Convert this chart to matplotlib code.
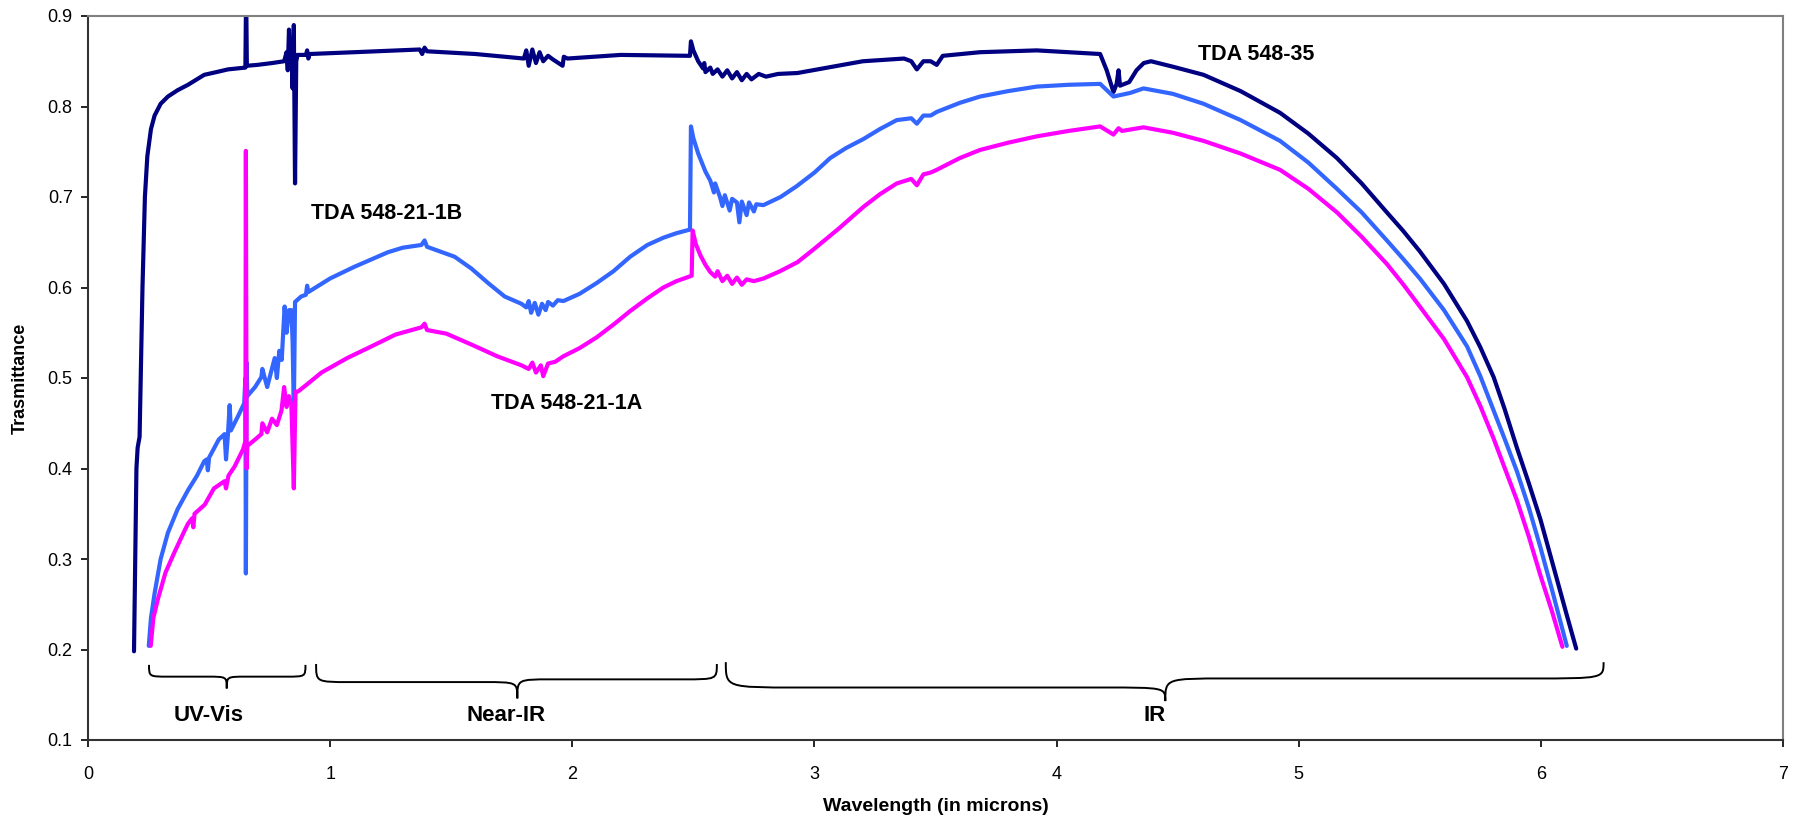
import numpy as np
import matplotlib
matplotlib.use("Agg")
import matplotlib.pyplot as plt
from matplotlib.path import Path
from matplotlib.patches import PathPatch

plt.rcParams['font.family'] = ['Liberation Sans', 'DejaVu Sans']

# (wavelength in microns, transmittance)
# TDA 548-35 (navy)
pts_35 = [(0.19, 0.198), (0.200, 0.40), (0.205, 0.423), (0.213, 0.435), (0.225, 0.60),
          (0.235, 0.70), (0.245, 0.745), (0.26, 0.775), (0.275, 0.790), (0.30, 0.803),
          (0.33, 0.811), (0.37, 0.818), (0.413, 0.824), (0.48, 0.835), (0.53, 0.838),
          (0.578, 0.841), (0.650, 0.843), (0.653, 0.93), (0.656, 0.845), (0.70, 0.846),
          (0.76, 0.848), (0.81, 0.850), (0.82, 0.86), (0.825, 0.84), (0.83, 0.885),
          (0.835, 0.845), (0.84, 0.87), (0.845, 0.82), (0.85, 0.89), (0.855, 0.715),
          (0.86, 0.85), (0.865, 0.857), (0.90, 0.857), (0.905, 0.862), (0.91, 0.853),
          (0.915, 0.858), (1.1, 0.860), (1.37, 0.863), (1.38, 0.858), (1.39, 0.865),
          (1.40, 0.861), (1.6, 0.858), (1.80, 0.853), (1.81, 0.862), (1.82, 0.845),
          (1.835, 0.863), (1.85, 0.848), (1.865, 0.860), (1.88, 0.850), (1.9, 0.856),
          (1.92, 0.852), (1.96, 0.845), (1.965, 0.855), (1.98, 0.853), (2.2, 0.857),
          (2.486, 0.856), (2.49, 0.872), (2.50, 0.862), (2.52, 0.850), (2.54, 0.842),
          (2.545, 0.848), (2.55, 0.838), (2.57, 0.843), (2.58, 0.836), (2.60, 0.841),
          (2.62, 0.833), (2.64, 0.840), (2.66, 0.831), (2.68, 0.838), (2.70, 0.829),
          (2.72, 0.836), (2.74, 0.830), (2.77, 0.836), (2.8, 0.833), (2.85, 0.836),
          (2.93, 0.837), (3.2, 0.850), (3.37, 0.853), (3.40, 0.850), (3.423, 0.841),
          (3.45, 0.850), (3.48, 0.850), (3.505, 0.846), (3.53, 0.856), (3.684, 0.860),
          (3.918, 0.862), (4.18, 0.858), (4.207, 0.840), (4.235, 0.816), (4.248, 0.825),
          (4.256, 0.840), (4.262, 0.823), (4.30, 0.827), (4.33, 0.840), (4.36, 0.848),
          (4.39, 0.850), (4.48, 0.844), (4.607, 0.835), (4.76, 0.817), (4.923, 0.793),
          (5.04, 0.770), (5.158, 0.743), (5.26, 0.715), (5.364, 0.683), (5.43, 0.663),
          (5.50, 0.640), (5.60, 0.604), (5.695, 0.563), (5.75, 0.534), (5.805, 0.501),
          (5.85, 0.466), (5.901, 0.423), (5.95, 0.384), (5.998, 0.344), (6.03, 0.313),
          (6.067, 0.277), (6.105, 0.240), (6.146, 0.201)]

# TDA 548-21-1B (blue)
pts_1b = [(0.251, 0.204), (0.26, 0.235), (0.275, 0.262), (0.30, 0.300), (0.33, 0.329),
          (0.37, 0.355), (0.413, 0.376), (0.45, 0.392), (0.48, 0.408), (0.49, 0.41),
          (0.495, 0.398), (0.50, 0.412), (0.54, 0.432), (0.564, 0.438), (0.570, 0.41),
          (0.578, 0.438), (0.585, 0.47), (0.59, 0.442), (0.62, 0.458), (0.645, 0.472),
          (0.650, 0.50), (0.652, 0.284), (0.655, 0.517), (0.658, 0.48), (0.69, 0.49),
          (0.716, 0.501), (0.72, 0.51), (0.74, 0.49), (0.771, 0.522), (0.78, 0.50),
          (0.79, 0.53), (0.80, 0.52), (0.812, 0.579), (0.82, 0.55), (0.83, 0.575),
          (0.84, 0.575), (0.845, 0.54), (0.85, 0.464), (0.855, 0.584), (0.88, 0.590),
          (0.90, 0.592), (0.905, 0.602), (0.91, 0.595), (1.0, 0.610), (1.101, 0.623),
          (1.239, 0.639), (1.30, 0.644), (1.377, 0.647), (1.39, 0.652), (1.40, 0.645),
          (1.514, 0.634), (1.583, 0.621), (1.652, 0.605), (1.721, 0.590), (1.790, 0.582),
          (1.81, 0.578), (1.82, 0.585), (1.83, 0.572), (1.845, 0.583), (1.86, 0.570),
          (1.875, 0.582), (1.89, 0.575), (1.90, 0.584), (1.92, 0.580), (1.94, 0.586),
          (1.963, 0.585), (2.03, 0.593), (2.101, 0.605), (2.17, 0.618), (2.239, 0.634),
          (2.31, 0.647), (2.376, 0.655), (2.43, 0.660), (2.486, 0.664), (2.490, 0.778),
          (2.50, 0.765), (2.52, 0.748), (2.55, 0.728), (2.57, 0.718), (2.585, 0.705),
          (2.59, 0.715), (2.61, 0.700), (2.62, 0.690), (2.63, 0.702), (2.65, 0.685),
          (2.66, 0.698), (2.68, 0.694), (2.69, 0.672), (2.70, 0.695), (2.72, 0.680),
          (2.73, 0.694), (2.75, 0.684), (2.76, 0.692), (2.789, 0.691), (2.86, 0.700),
          (2.927, 0.712), (3.0, 0.727), (3.065, 0.743), (3.13, 0.754), (3.202, 0.764),
          (3.27, 0.775), (3.34, 0.785), (3.40, 0.787), (3.423, 0.781), (3.45, 0.790),
          (3.48, 0.790), (3.505, 0.794), (3.60, 0.804), (3.684, 0.811), (3.80, 0.817),
          (3.918, 0.822), (4.05, 0.824), (4.18, 0.825), (4.235, 0.811), (4.304, 0.815),
          (4.359, 0.820), (4.48, 0.814), (4.607, 0.803), (4.76, 0.785), (4.923, 0.762),
          (5.04, 0.738), (5.158, 0.709), (5.26, 0.683), (5.364, 0.652), (5.43, 0.632),
          (5.50, 0.610), (5.60, 0.575), (5.695, 0.535), (5.75, 0.502), (5.805, 0.464),
          (5.85, 0.433), (5.901, 0.397), (5.95, 0.357), (5.998, 0.313), (6.05, 0.262),
          (6.107, 0.204)]

# TDA 548-21-1A (magenta)
pts_1a = [(0.259, 0.204), (0.27, 0.235), (0.289, 0.256), (0.32, 0.285), (0.358, 0.308),
          (0.40, 0.332), (0.413, 0.339), (0.43, 0.345), (0.435, 0.335), (0.44, 0.350),
          (0.482, 0.360), (0.52, 0.378), (0.564, 0.386), (0.57, 0.378), (0.58, 0.392),
          (0.605, 0.402), (0.64, 0.421), (0.650, 0.43), (0.652, 0.751), (0.655, 0.40),
          (0.658, 0.425), (0.69, 0.432), (0.716, 0.438), (0.72, 0.45), (0.74, 0.44),
          (0.76, 0.455), (0.78, 0.448), (0.799, 0.464), (0.81, 0.49), (0.82, 0.468),
          (0.83, 0.48), (0.84, 0.47), (0.85, 0.378), (0.857, 0.485), (0.867, 0.485),
          (0.90, 0.492), (0.964, 0.506), (1.07, 0.522), (1.171, 0.535), (1.27, 0.548),
          (1.377, 0.556), (1.39, 0.560), (1.40, 0.553), (1.48, 0.549), (1.583, 0.537),
          (1.69, 0.524), (1.79, 0.514), (1.82, 0.510), (1.835, 0.517), (1.85, 0.506),
          (1.87, 0.514), (1.88, 0.502), (1.90, 0.516), (1.93, 0.518), (1.963, 0.524),
          (2.03, 0.533), (2.101, 0.545), (2.17, 0.559), (2.239, 0.574), (2.31, 0.588),
          (2.376, 0.600), (2.43, 0.607), (2.493, 0.613), (2.497, 0.663), (2.51, 0.648),
          (2.53, 0.635), (2.55, 0.625), (2.57, 0.617), (2.59, 0.612), (2.60, 0.618),
          (2.62, 0.607), (2.64, 0.613), (2.66, 0.604), (2.68, 0.611), (2.70, 0.603),
          (2.72, 0.609), (2.75, 0.607), (2.79, 0.610), (2.858, 0.618), (2.93, 0.628),
          (2.996, 0.642), (3.10, 0.665), (3.202, 0.689), (3.27, 0.703), (3.34, 0.715),
          (3.40, 0.720), (3.423, 0.713), (3.45, 0.725), (3.48, 0.727), (3.505, 0.730),
          (3.60, 0.743), (3.684, 0.752), (3.80, 0.760), (3.918, 0.767), (4.05, 0.773),
          (4.18, 0.778), (4.235, 0.769), (4.256, 0.776), (4.27, 0.773), (4.359, 0.777),
          (4.48, 0.771), (4.607, 0.762), (4.76, 0.748), (4.923, 0.730), (5.04, 0.709),
          (5.158, 0.683), (5.26, 0.656), (5.364, 0.626), (5.43, 0.604), (5.50, 0.579),
          (5.60, 0.543), (5.695, 0.501), (5.75, 0.469), (5.805, 0.433), (5.85, 0.401),
          (5.901, 0.365), (5.95, 0.325), (5.998, 0.282), (6.045, 0.243), (6.089, 0.203)]

series_names = ['TDA 548-35', 'TDA 548-21-1B', 'TDA 548-21-1A']
series_colors = ['#000080', '#3366FF', '#FF00FF']

# spectral regions: name, start, end, tip of the brace
region_names = ['UV-Vis', 'Near-IR', 'IR']
region_start = [0.252, 0.942, 2.634]
region_end = [0.898, 2.597, 6.259]
region_tip = [0.573, 1.773, 4.449]

fig = plt.figure(figsize=(18.02, 8.19), dpi=100)
ax = fig.add_axes([88 / 1802, 1 - 740 / 819, (1783 - 88) / 1802, (740 - 16) / 819])

for pts, c in zip([pts_35, pts_1b, pts_1a], series_colors):
    arr = np.array(pts)
    ax.plot(arr[:, 0], arr[:, 1], color=c, lw=3.0,
            solid_capstyle='round', solid_joinstyle='round')

ax.set_xlim(0, 7)
ax.set_ylim(0.1, 0.9)
ax.set_xticks(range(0, 8))
yt = np.arange(0.1, 0.91, 0.1)
ax.set_yticks(yt)
ax.set_yticklabels(['%.1f' % v for v in yt])
ax.tick_params(direction='out', length=5, width=1.2, labelsize=13, colors='black')
ax.tick_params(axis='x', pad=14)
ax.tick_params(axis='y', pad=6)
for s in ['top', 'right']:
    ax.spines[s].set_color('#808080')
    ax.spines[s].set_linewidth(1.5)
for s in ['left', 'bottom']:
    ax.spines[s].set_color('#333333')
    ax.spines[s].set_linewidth(1.5)

ax.set_xlabel('Wavelength (in microns)', fontsize=14, fontweight='bold', va='center')
ax.set_ylabel('Trasmittance', fontsize=13, fontweight='bold', va='center')
ax.xaxis.set_label_coords(0.5, -0.092)
ax.yaxis.set_label_coords(-0.0397, 0.5)

# series labels
ax.text(4.586, 0.858, series_names[0], fontsize=15.5, fontweight='bold', va='center')
ax.text(0.920, 0.682, series_names[1], fontsize=15.5, fontweight='bold', va='center')
ax.text(1.666, 0.472, series_names[2], fontsize=15.5, fontweight='bold', va='center')


def brace(x0, x1, xt, y_end, ym_l, ym_r, y_tip, r, rt):
    verts = [(x0, y_end), (x0, ym_l), (x0, ym_l), (x0 + r, ym_l),
             (xt - rt, ym_l),
             (xt, ym_l), (xt, ym_l), (xt, y_tip),
             (xt, ym_r), (xt, ym_r), (xt + rt, ym_r),
             (x1 - r, ym_r),
             (x1, ym_r), (x1, ym_r), (x1, y_end)]
    codes = [Path.MOVETO, Path.CURVE4, Path.CURVE4, Path.CURVE4,
             Path.LINETO,
             Path.CURVE4, Path.CURVE4, Path.CURVE4,
             Path.CURVE4, Path.CURVE4, Path.CURVE4,
             Path.LINETO,
             Path.CURVE4, Path.CURVE4, Path.CURVE4]
    ax.add_patch(PathPatch(Path(verts, codes), fill=False, lw=1.4, color='black'))


brace_shape = [(0.183, 0.170, 0.170, 0.157, 0.08, 0.08),
               (0.184, 0.164, 0.167, 0.146, 0.14, 0.14),
               (0.186, 0.158, 0.168, 0.143, 0.30, 0.26)]
label_x = [0.50, 1.728, 4.405]
for name, a, b, t, shp, lx in zip(region_names, region_start, region_end, region_tip,
                                  brace_shape, label_x):
    brace(a, b, t, *shp)
    ax.text(lx, 0.127, name, fontsize=16, fontweight='bold', ha='center', va='center')

fig.savefig('out.png', dpi=100)
